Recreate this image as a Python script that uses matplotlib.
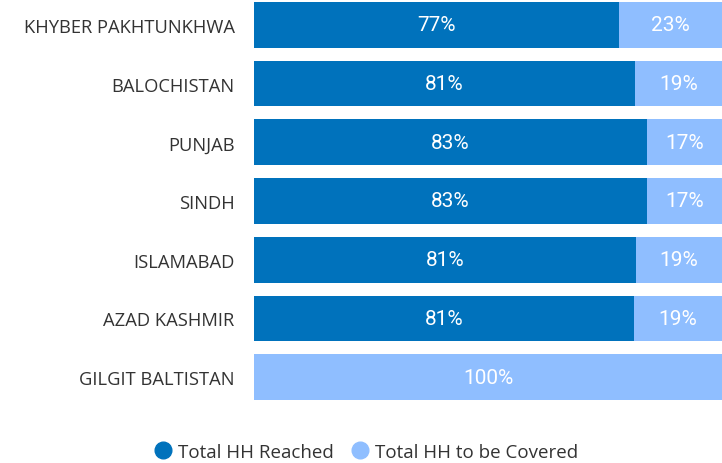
import matplotlib
matplotlib.use("Agg")
import matplotlib.pyplot as plt
from matplotlib.lines import Line2D

# regions, top to bottom
regions = [
    "KHYBER PAKHTUNKHWA",
    "BALOCHISTAN",
    "PUNJAB",
    "SINDH",
    "ISLAMABAD",
    "AZAD KASHMIR",
    "GILGIT BALTISTAN",
]
# share of households reached / still to be covered (bar lengths)
reached = [78.0, 81.4, 84.0, 84.0, 81.6, 81.2, 0.0]
to_cover = [22.0, 18.6, 16.0, 16.0, 18.4, 18.8, 100.0]
# printed labels
reached_labels = ["77%", "81%", "83%", "83%", "81%", "81%", ""]
cover_labels = ["23%", "19%", "17%", "17%", "19%", "19%", "100%"]

DARK = "#0072BC"
LIGHT = "#8FBEFF"

fig = plt.figure(figsize=(7.22, 4.64), dpi=100)
ax = fig.add_axes([254 / 722, 63 / 464, 468 / 722, 398 / 464])

y = list(range(len(regions)))
h = 0.78
ax.barh(y, reached, height=h, color=DARK, label="Total HH Reached")
ax.barh(y, to_cover, left=reached, height=h, color=LIGHT, label="Total HH to be Covered")

for i in y:
    if reached_labels[i]:
        ax.text(reached[i] / 2, i, reached_labels[i], ha="center", va="center",
                color="white", fontsize=15, family="Roboto")
    ax.text(reached[i] + to_cover[i] / 2, i, cover_labels[i], ha="center", va="center",
            color="white", fontsize=15, family="Roboto")

ax.set_xlim(0, 100)
ax.set_ylim(len(regions) - 1 + h / 2, -h / 2)
ax.set_yticks(y)
ax.set_yticklabels(regions, fontsize=13.2, family="Open Sans", color="#333333")
ax.tick_params(axis="y", length=0, pad=14)
ax.set_xticks([])
for s in ax.spines.values():
    s.set_visible(False)

handles = [
    Line2D([], [], marker="o", linestyle="none", markersize=12,
           markerfacecolor=DARK, markeredgecolor=DARK),
    Line2D([], [], marker="o", linestyle="none", markersize=12,
           markerfacecolor=LIGHT, markeredgecolor=LIGHT),
]
fig.legend(handles, ["Total HH Reached", "Total HH to be Covered"],
           loc="center", bbox_to_anchor=(361 / 722, 1 - 453 / 464), ncol=2,
           frameon=False, handletextpad=-0.2, columnspacing=0.4,
           prop={"family": "Open Sans", "size": 13.5}, labelcolor="#333333")

plt.savefig("out.png", dpi=100)
